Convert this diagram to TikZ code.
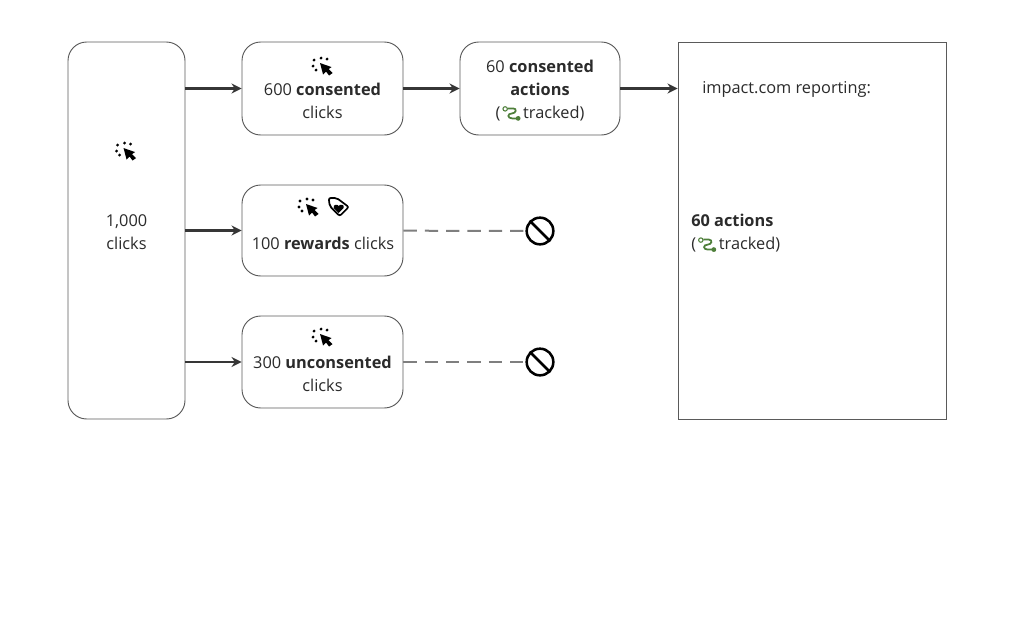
\documentclass[tikz,border=0pt]{standalone}
\usepackage{fontspec}
\setmainfont{Open Sans}
\usetikzlibrary{calc, arrows.meta}
\definecolor{ink}{HTML}{2B2B2B}
\definecolor{edge}{HTML}{5A5A5A}
\definecolor{dashgray}{HTML}{7F7F7F}
\definecolor{trackgreen}{HTML}{4E7F3A}
\tikzstyle{cool} = [rectangle, rounded corners=14pt, draw=edge, line width=0.7pt, fill=white, inner sep=0pt]
\tikzstyle{report} = [rectangle, draw=edge, line width=0.7pt, fill=white, inner sep=0pt]
\tikzstyle{caption} = [inner sep=0pt, text=ink, align=center]
\tikzstyle{arrow} = [line width=1.7pt, -{Stealth[length=7.5pt, width=7.5pt]}, draw=ink!95]
\tikzstyle{dashline} = [line width=1.5pt, draw=dashgray, dash pattern=on 10pt off 6pt]
\tikzstyle{stopmark} = [circle, draw=black, line width=1.9pt, minimum size=20pt, inner sep=0pt]
% small icons, drawn in pixels of the reference
\newcommand{\clickicon}{\tikz[baseline=-4pt, x=0.75pt, y=-0.75pt]{
    \fill[black] (-2,-3) -- (9.5,1) -- (6.5,3) -- (10.5,7) -- (7,9.5) -- (4,5.5) -- (1,8.5) -- cycle;
    \foreach \px/\py in {-8/-6, -9/0, -6/4, -1/-8, 5/-7}
        \fill[black] (\px,\py) circle (1.6);
}}
\newcommand{\tagicon}{\tikz[baseline=-4pt, x=0.75pt, y=-0.75pt]{
    \draw[black, line width=1.3pt, rounded corners=1.5pt] (-10,-9) -- (-2,-9) -- (10,0) -- (1,9) -- (-9,-1) -- cycle;
    \fill[black] (0,6) -- (-5,1) .. controls (-6,-3) and (-1,-3) .. (0,-1) .. controls (1,-3) and (6,-3) .. (5,1) -- cycle;
}}
\newcommand{\trackicon}{\tikz[baseline=-1pt, x=0.75pt, y=-0.75pt]{
    \draw[trackgreen, line width=0.8pt] (-7,-8.5) circle (2.2);
    \draw[trackgreen, line width=1.3pt] (-4.5,-9) -- (1,-9) .. controls (5,-9) and (4,-4) .. (0,-4) .. controls (-5,-4) and (-5,1) .. (0,1) -- (5,1);
    \fill[trackgreen] (6,1) circle (2.4);
}}

\begin{document}
\begin{tikzpicture}[x=0.75pt, y=-0.75pt, font=\fontsize{12.25}{17.25}\selectfont]
        \useasboundingbox (0,0) rectangle (1024,618);

        \node (clicks) [cool, minimum width=87.75pt, minimum height=282.75pt] at (126.5,230.5) {};
        \node (clicksmark) [caption] at (125.5,151) {\clickicon};
        \node (clickstext) [caption] at (126.5,232.5) {1,000\\clicks};

        \node (cons) [cool, minimum width=120.75pt, minimum height=69.75pt] at (322.5,88.5) {};
        \node (consmark) [caption] at (322,66) {\clickicon};
        \node (constext) [caption] at (322.5,100.5) {600 \textbf{consented}\\clicks};

        \node (acts) [cool, minimum width=120pt, minimum height=69.75pt] at (540,88.5) {};
        \node (actstext) [caption] at (540,90.8) {60 \textbf{consented}\\\textbf{actions}\\(\hspace{1.5pt}\trackicon\hspace{2pt}tracked)};

        \node (rew) [cool, minimum width=120.75pt, minimum height=68.25pt] at (322.5,230.5) {};
        \node (rewmark) [caption] at (323.5,207) {\clickicon\hspace{7pt}\tagicon};
        \node (rewtext) [caption] at (323,243.5) {100 \textbf{rewards} clicks};

        \node (uncons) [cool, minimum width=120.75pt, minimum height=69pt] at (322.5,362) {};
        \node (unconsmark) [caption] at (322,337) {\clickicon};
        \node (unconstext) [caption] at (322.5,373.5) {300 \textbf{unconsented}\\clicks};

        \node (rep) [report, minimum width=201pt, minimum height=282.75pt] at (812,230.5) {};
        \node (reptitle) [caption, anchor=west] at (702,89) {impact.com reporting:};
        \node (reptotal) [caption, anchor=west, align=left] at (691,233.5) {\textbf{60 actions}\\(\hspace{1.5pt}\trackicon\hspace{2pt}tracked)};

        \node (stopa) [stopmark] at (540,231) {};
        \node (stopb) [stopmark] at (540,362) {};
        \draw [black, line width=1.9pt] (stopa.north west) -- (stopa.south east);
        \draw [black, line width=1.9pt] (stopb.north west) -- (stopb.south east);

        \draw [arrow] (clicks.east |- cons.west) -- (cons.west);
        \draw [arrow] (clicks.east |- rew.west) -- (rew.west);
        \draw [arrow] (clicks.east |- uncons.west) -- (uncons.west);
        \draw [arrow] (cons) -- (acts);
        \draw [arrow] (acts) -- (acts -| rep.west);
        \draw [dashline] (rew) -- (stopa);
        \draw [dashline] (uncons) -- (stopb);

    \end{tikzpicture}
\end{document}
